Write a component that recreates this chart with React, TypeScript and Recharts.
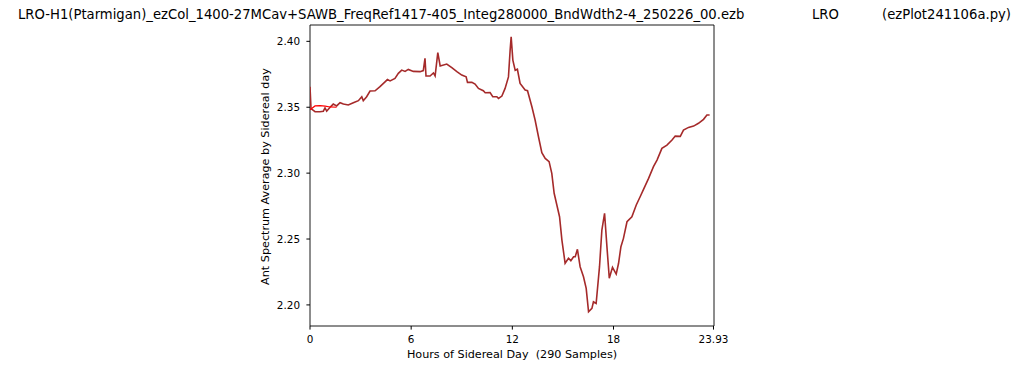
import { LineChart, Line, XAxis, YAxis, ReferenceArea } from 'recharts';

const TITLE_FILE = 'LRO-H1(Ptarmigan)_ezCol_1400-27MCav+SAWB_FreqRef1417-405_Integ280000_BndWdth2-4_250226_00.ezb';
const TITLE_SITE = 'LRO';
const TITLE_PROG = '(ezPlot241106a.py)';
const X_LABEL = 'Hours of Sidereal Day  (290 Samples)';
const Y_LABEL = 'Ant Spectrum Average by Sidereal day';

const X_TICKS = [0, 6, 12, 18, 23.93];
const Y_TICKS = [2.2, 2.25, 2.3, 2.35, 2.4];
const X_MAX = 23.96;
const Y_MIN = 2.184;
const Y_MAX = 2.4124;

// main trace (brown)
const hours = [
    0, 0.06, 0.3, 0.59, 0.79, 0.89, 0.99, 1.19, 1.38, 1.58, 1.78, 1.98, 2.27, 2.57, 2.87, 3.07,
    3.16, 3.36, 3.56, 3.86, 4.15, 4.45, 4.59, 4.75, 5.04, 5.24, 5.44, 5.64, 5.83, 6.13, 6.53,
    6.72, 6.82, 6.88, 7.12, 7.32, 7.42, 7.58, 7.72, 8.11, 8.41, 8.71, 9.0, 9.26, 9.34, 9.6,
    9.79, 9.99, 10.28, 10.39, 10.68, 10.84, 11.08, 11.18, 11.38, 11.57, 11.77, 11.87, 11.93,
    12.03, 12.17, 12.3, 12.46, 12.76, 12.9, 13.16, 13.35, 13.55, 13.75, 13.95, 14.18, 14.34,
    14.48, 14.64, 14.8, 14.94, 15.13, 15.33, 15.47, 15.63, 15.73, 15.86, 16.02, 16.22, 16.38,
    16.52, 16.72, 16.81, 16.97, 17.17, 17.31, 17.47, 17.61, 17.75, 17.94, 18.16, 18.3, 18.44,
    18.59, 18.8, 19.09, 19.35, 19.58, 19.78, 20.08, 20.37, 20.58, 20.87, 21.17, 21.47, 21.66,
    21.96, 22.15, 22.45, 22.75, 23.04, 23.34, 23.54, 23.7,
];
const level = [
    2.3656, 2.349, 2.3466, 2.3466, 2.347, 2.3495, 2.347, 2.35, 2.3524, 2.351, 2.3534, 2.3524,
    2.3517, 2.3534, 2.355, 2.358, 2.355, 2.358, 2.3623, 2.3625, 2.3656, 2.3693, 2.371, 2.37,
    2.3719, 2.3757, 2.3782, 2.3772, 2.3787, 2.3772, 2.377, 2.3778, 2.3871, 2.3737, 2.3737,
    2.376, 2.3737, 2.3914, 2.3813, 2.3828, 2.38, 2.377, 2.3744, 2.3731, 2.3689, 2.369, 2.3676,
    2.3643, 2.3625, 2.361, 2.3612, 2.358, 2.358, 2.3567, 2.3585, 2.3643, 2.373, 2.3934, 2.4035,
    2.3858, 2.378, 2.3788, 2.3681, 2.363, 2.3625, 2.3504, 2.3403, 2.3276, 2.3155, 2.3112,
    2.3087, 2.2998, 2.2847, 2.2758, 2.2669, 2.2492, 2.2316, 2.2354, 2.2336, 2.2366, 2.2366,
    2.2422, 2.229, 2.2214, 2.2126, 2.1948, 2.1974, 2.2024, 2.2011, 2.229, 2.2568, 2.2695,
    2.2442, 2.2202, 2.2285, 2.2234, 2.2316, 2.2442, 2.2505, 2.2631, 2.2669, 2.2758, 2.2821,
    2.2877, 2.296, 2.3049, 2.3099, 2.3188, 2.3213, 2.3251, 2.3281, 2.3279, 2.3327, 2.3347,
    2.3357, 2.3378, 2.3408, 2.3441, 2.3441,
];

// short bright red trace at the start
const redHours = [0, 0.3, 0.6, 0.9, 1.19, 1.58];
const redLevel = [2.348, 2.351, 2.3512, 2.3508, 2.3502, 2.35];

const mainData = hours.map((h, i) => ({ h, v: level[i] }));
const redData = redHours.map((h, i) => ({ h, v: redLevel[i] }));

const FONT = 'DejaVu Sans, sans-serif';
const tickStyle = { fontSize: 10.4, fill: '#000', fontFamily: FONT };

function XLabel({ viewBox }: any) {
    return (
        <text
            x={viewBox.x + viewBox.width / 2}
            y={viewBox.y + 32}
            textAnchor="middle"
            fontSize={11.2}
            fontFamily={FONT}
            fill="#000"
            style={{ whiteSpace: 'pre' }}
        >
            {X_LABEL}
        </text>
    );
}

function YLabel({ viewBox }: any) {
    const cx = 269.3;
    const cy = viewBox.y + viewBox.height / 2 + 1;
    return (
        <text
            x={cx}
            y={cy}
            transform={`rotate(-90, ${cx}, ${cy})`}
            textAnchor="middle"
            fontSize={11.2}
            fontFamily={FONT}
            fill="#000"
        >
            {Y_LABEL}
        </text>
    );
}

const titleStyle: React.CSSProperties = {
    position: 'absolute',
    top: 6.5,
    fontFamily: FONT,
    fontSize: 13.2,
    whiteSpace: 'pre',
    color: '#000',
    lineHeight: '15px',
};

export default function App() {
    return (
        <div style={{ position: 'absolute', left: 0, top: 0, width: 1024, height: 370, background: '#fff' }}>
            <div style={{ ...titleStyle, left: 18 }}>{TITLE_FILE}</div>
            <div style={{ ...titleStyle, left: 812 }}>{TITLE_SITE}</div>
            <div style={{ ...titleStyle, left: 882 }}>{TITLE_PROG}</div>
            <LineChart width={1024} height={370} margin={{ top: 25, right: 310, bottom: 14, left: 250 }}>
                <XAxis
                    dataKey="h"
                    type="number"
                    domain={[0, X_MAX]}
                    ticks={X_TICKS}
                    tickFormatter={(t: number) => String(t)}
                    height={30}
                    axisLine={false}
                    tickLine={{ stroke: '#000' }}
                    tickSize={3.6}
                    tickMargin={6}
                    tick={tickStyle}
                    interval={0}
                    allowDataOverflow
                    label={<XLabel />}
                />
                <YAxis
                    type="number"
                    domain={[Y_MIN, Y_MAX]}
                    ticks={Y_TICKS}
                    tickFormatter={(t: number) => t.toFixed(2)}
                    width={60}
                    axisLine={false}
                    tickLine={{ stroke: '#000' }}
                    tickSize={3.6}
                    tickMargin={6.4}
                    tick={tickStyle}
                    interval={0}
                    allowDataOverflow
                    label={<YLabel />}
                />
                <ReferenceArea
                    x1={0}
                    x2={X_MAX}
                    y1={Y_MIN}
                    y2={Y_MAX}
                    fill="none"
                    stroke="#000"
                    strokeWidth={0.9}
                    strokeOpacity={1}
                />
                <Line
                    data={mainData}
                    dataKey="v"
                    type="linear"
                    stroke="#a52a2a"
                    strokeWidth={1.6}
                    dot={false}
                    isAnimationActive={false}
                />
                <Line
                    data={redData}
                    dataKey="v"
                    type="linear"
                    stroke="#ff0000"
                    strokeWidth={1.2}
                    dot={false}
                    isAnimationActive={false}
                />
            </LineChart>
        </div>
    );
}
